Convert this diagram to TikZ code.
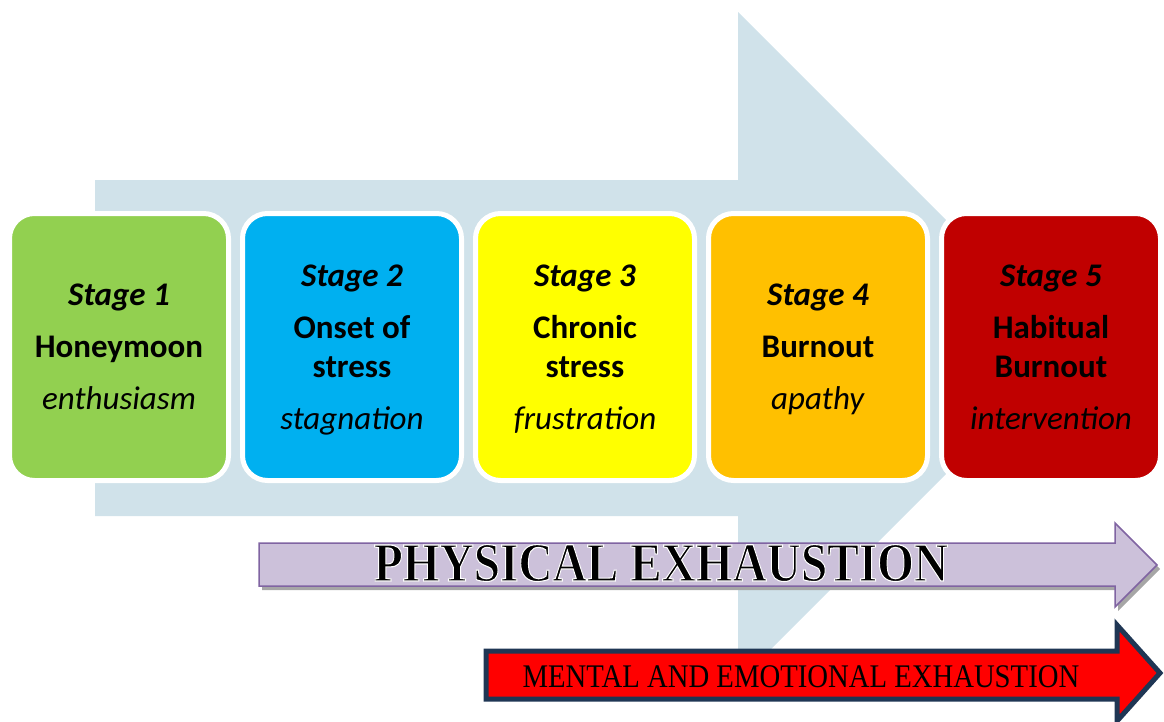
\documentclass[tikz,border=0pt]{standalone}
\usepackage{fontspec}
\setmainfont{Liberation Serif}
\setsansfont{Carlito}
\usepackage{graphicx}
\usepackage{tikz}
\usetikzlibrary{positioning}

\definecolor{bgarrow}{RGB}{208,226,234}
\definecolor{stageone}{RGB}{146,208,80}
\definecolor{stagetwo}{RGB}{0,176,240}
\definecolor{stagethree}{RGB}{255,255,0}
\definecolor{stagefour}{RGB}{255,192,0}
\definecolor{stagefive}{RGB}{192,0,0}
\definecolor{physfill}{RGB}{204,193,218}
\definecolor{physline}{RGB}{128,100,162}
\definecolor{mentline}{RGB}{31,54,84}

% outlined letters: fill black, stroke white
\newcommand{\whiteedge}[1]{\special{pdf:literal direct 2 Tr 1 1 1 RG 1.1 w}#1\special{pdf:literal direct 0 Tr}}

\begin{document}
\begin{tikzpicture}[x=1pt, y=-1pt,
  stagebox/.style={draw=white, line width=5pt, rounded corners=25pt,
    minimum width=219pt, minimum height=267pt, align=center, text depth=0pt,
    font=\sffamily\fontsize{33}{39}\selectfont},
  physword/.style={anchor=base, inner sep=0pt,
    font=\bfseries\fontsize{55}{60}\selectfont},
  mentword/.style={anchor=base, inner sep=0pt,
    font=\fontsize{33}{38}\selectfont}]

\clip (0,0) rectangle (1164,721);

% background arrow
\fill[bgarrow] (95,180) -- (738,180) -- (738,12) -- (1073,347)
  -- (738,682) -- (738,516) -- (95,516) -- cycle;

% stages
\node[stagebox, fill=stageone] (stage1) at (119,347)
  {\textbf{\textit{Stage 1}}\\[13pt]\textbf{Honeymoon}\\[13pt]\textit{enthusiasm}};
\node[stagebox, fill=stagetwo, right=9pt of stage1] (stage2)
  {\textbf{\textit{Stage 2}}\\[13pt]\textbf{Onset of}\\\textbf{stress}\\[13pt]\textit{stagnation}};
\node[stagebox, fill=stagethree, right=9pt of stage2] (stage3)
  {\textbf{\textit{Stage 3}}\\[13pt]\textbf{Chronic}\\\textbf{stress}\\[13pt]\textit{frustration}};
\node[stagebox, fill=stagefour, right=9pt of stage3] (stage4)
  {\textbf{\textit{Stage 4}}\\[13pt]\textbf{Burnout}\\[13pt]\textit{apathy}};
\node[stagebox, fill=stagefive, right=9pt of stage4] (stage5)
  {\textbf{\textit{Stage 5}}\\[13pt]\textbf{Habitual}\\\textbf{Burnout}\\[13pt]\textit{intervention}};

% physical exhaustion arrow
\fill[black!35] (262,547) -- (1118,547) -- (1118,527) -- (1160,569)
  -- (1118,611) -- (1118,590) -- (262,590) -- cycle;
\draw[physline, fill=physfill, line width=1.5pt] (259,543) -- (1115,543)
  -- (1115,523) -- (1157,565) -- (1115,607) -- (1115,586) -- (259,586) -- cycle;
\node[physword] (physlabel) at (661,581)
  {\whiteedge{\scalebox{0.86}[1]{PHYSICAL EXHAUSTION}}};

% mental and emotional exhaustion arrow
\draw[mentline, fill=red, line width=5pt] (486,651) -- (1117,651)
  -- (1117,625) -- (1160,673) -- (1117,721) -- (1117,699) -- (486,699) -- cycle;
\node[mentword] (mentlabel) at (801,687)
  {\scalebox{0.87}[1]{MENTAL AND EMOTIONAL EXHAUSTION}};

\end{tikzpicture}
\end{document}
